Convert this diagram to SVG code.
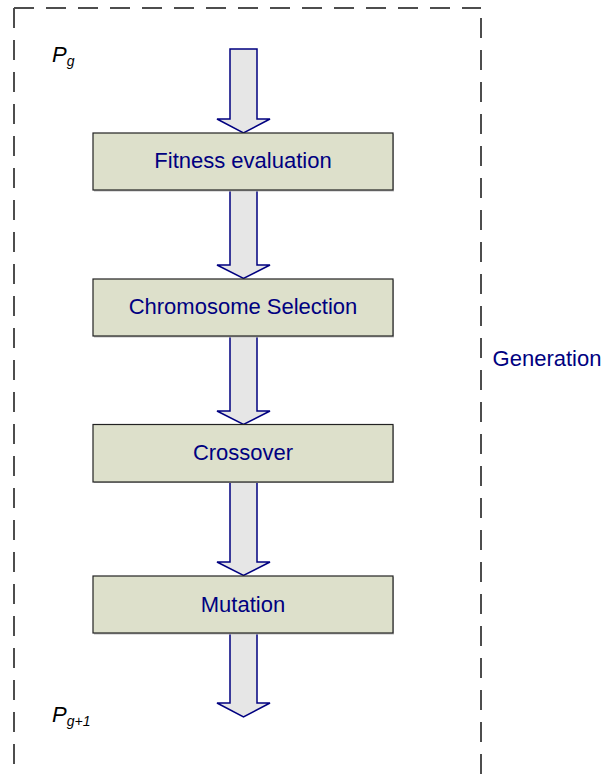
<svg xmlns="http://www.w3.org/2000/svg" width="605" height="774" viewBox="0 0 605 774">
<style>
.border{stroke:#4d4d4d;stroke-width:2;fill:none;stroke-dasharray:20 12}
.box{fill:#dde0cb;stroke:#222;stroke-width:1.2}
.shadow{fill:#bdbdbd}
.lbl{font-family:"Liberation Sans",Arial,sans-serif;font-size:22px;fill:#000080;text-anchor:middle}
.arrow{fill:#e6e6e6;stroke:#000080;stroke-width:1.5;stroke-linejoin:miter}
.p{font-family:"Liberation Sans",Arial,sans-serif;font-style:italic;fill:#000;font-size:22px}
.sub{font-size:14px}
</style>
<rect width="605" height="774" fill="#fff"/>
<g id="generation-frame">
<line class="border" x1="14" y1="8" x2="14" y2="774"/>
<line class="border" x1="14" y1="8" x2="481" y2="8"/>
<line class="border" x1="481" y1="18" x2="481" y2="774"/>
</g>
<g id="connectors">
<polygon class="arrow" points="230,49 257,49 257,119 270,119 243.5,133 217,119 230,119 230,49"/>
<polygon class="arrow" points="230,190 257,190 257,265 270,265 243.5,278.5 217,265 230,265"/>
<polygon class="arrow" points="230,336 257,336 257,411 270,411 243.5,424.5 217,411 230,411"/>
<polygon class="arrow" points="230,482 257,482 257,562 270,562 243.5,575.5 217,562 230,562"/>
<polygon class="arrow" points="230,633 257,633 257,703 270,703 243.5,717 217,703 230,703"/>
</g>
<g id="fitness">
<rect class="shadow" x="94" y="134" width="300" height="57.5"/>
<rect class="box" x="93" y="133" width="300" height="57"/>
<text class="lbl" x="243" y="168">Fitness evaluation</text>
</g>
<g id="selection">
<rect class="shadow" x="94" y="280" width="300" height="57.5"/>
<rect class="box" x="93" y="279" width="300" height="57"/>
<text class="lbl" x="243" y="314">Chromosome Selection</text>
</g>
<g id="crossover">
<rect class="shadow" x="94" y="425.5" width="300" height="57.5"/>
<rect class="box" x="93" y="424.5" width="300" height="57.5"/>
<text class="lbl" x="243" y="460">Crossover</text>
</g>
<g id="mutation">
<rect class="shadow" x="94" y="577" width="300" height="57.5"/>
<rect class="box" x="93" y="576" width="300" height="57"/>
<text class="lbl" x="243" y="612">Mutation</text>
</g>
<g id="pg">
<text class="p" x="52" y="62">P<tspan class="sub" dy="4">g</tspan></text>
</g>
<g id="pg1">
<text class="p" x="52" y="722">P<tspan class="sub" dy="4">g+1</tspan></text>
</g>
<g id="generation-label">
<text class="lbl" x="547" y="366">Generation</text>
</g>
</svg>
